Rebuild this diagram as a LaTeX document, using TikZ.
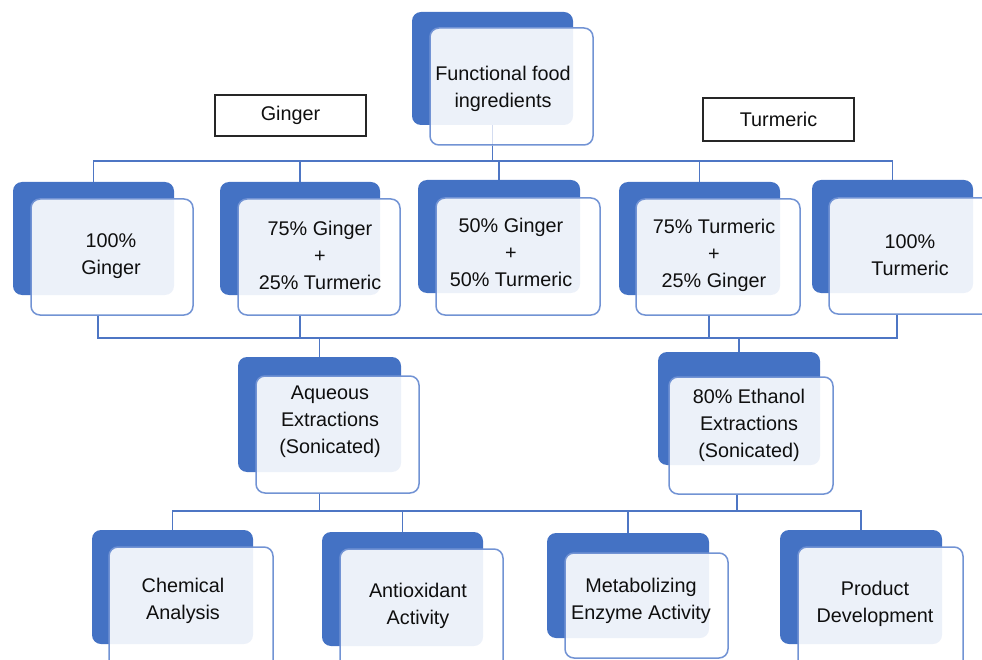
\documentclass[tikz,border=0pt]{standalone}
\usepackage{fontspec}
\setmainfont{Liberation Sans}
\definecolor{darkb}{RGB}{68,114,196}
\definecolor{edgeb}{RGB}{114,147,212}
\definecolor{lineb}{RGB}{78,118,196}
\definecolor{txt}{RGB}{15,15,15}
\begin{document}
\begin{tikzpicture}[x=1pt,y=-1pt,
  backbox/.style={rectangle, rounded corners=9pt, fill=darkb, draw=none, inner sep=0pt},
  frontbox/.style={rectangle, rounded corners=9pt, fill=white, fill opacity=0.9, draw=edgeb, line width=1.5pt, inner sep=0pt},
  lbl/.style={align=center, inner sep=0pt, text=txt, font=\fontsize{19.8}{27}\selectfont},
  labelbox/.style={rectangle, draw=black!85, line width=1.2pt, fill=white, inner sep=0pt, text=txt, font=\fontsize{19.8}{23}\selectfont},
  conn/.style={draw=lineb, line width=1.4pt}]
\useasboundingbox (0,0) rectangle (982,660);
\clip (0,0) rectangle (982,660);

% ---- back boxes ----
\path
 node[backbox, minimum width=161pt, minimum height=113pt] (topB) at (492.5,68.5) {}
 node[backbox, minimum width=161pt, minimum height=113pt] (r1B) at (93.5,238.5) {}
 node[backbox, minimum width=160pt, minimum height=113pt] (r2B) at (300,238.5) {}
 node[backbox, minimum width=162pt, minimum height=113pt] (r3B) at (499,236.5) {}
 node[backbox, minimum width=161pt, minimum height=113pt] (r4B) at (699.5,238.5) {}
 node[backbox, minimum width=161pt, minimum height=113pt] (r5B) at (892.5,236.5) {}
 node[backbox, minimum width=163pt, minimum height=115pt] (aqB) at (319.5,414.5) {}
 node[backbox, minimum width=162pt, minimum height=113pt] (etB) at (739,408.5) {}
 node[backbox, minimum width=161pt, minimum height=114pt] (chB) at (172.5,587) {}
 node[backbox, minimum width=161pt, minimum height=114pt] (anB) at (402.5,589) {}
 node[backbox, minimum width=162pt, minimum height=105pt] (meB) at (628,585.5) {}
 node[backbox, minimum width=162pt, minimum height=114pt] (prB) at (861,587) {};

% ---- front boxes ----
\path
 node[frontbox, minimum width=163pt, minimum height=117pt] (topF) at (511.5,86.5) {}
 node[frontbox, minimum width=162pt, minimum height=116pt] (r1F) at (112,257) {}
 node[frontbox, minimum width=162pt, minimum height=116pt] (r2F) at (319,257) {}
 node[frontbox, minimum width=164pt, minimum height=117pt] (r3F) at (518,256.5) {}
 node[frontbox, minimum width=164pt, minimum height=116pt] (r4F) at (718,257) {}
 node[frontbox, minimum width=166pt, minimum height=116pt] (r5F) at (912,256) {}
 node[frontbox, minimum width=163pt, minimum height=117pt] (aqF) at (337.5,434.5) {}
 node[frontbox, minimum width=164pt, minimum height=117pt] (etF) at (751,435.5) {}
 node[frontbox, minimum width=164pt, minimum height=123pt] (chF) at (191,608.5) {}
 node[frontbox, minimum width=163pt, minimum height=121pt] (anF) at (421.5,609.5) {}
 node[frontbox, minimum width=163pt, minimum height=105pt] (meF) at (646.5,605.5) {}
 node[frontbox, minimum width=165pt, minimum height=123pt] (prF) at (880.5,608.5) {};

% ---- connectors ----
\coordinate (busA) at (0,161);
\coordinate (busB) at (0,338);
\coordinate (busC) at (0,511);
\coordinate (r1drop) at (98,0);
\coordinate (r2drop) at (300,0);
\coordinate (r4drop) at (709,0);
\coordinate (r5drop) at (897,0);
\coordinate (aqdrop) at (319.5,0);
\coordinate (etdrop) at (737,0);

\draw[conn] (topF.south -| topB.south) -- (topB.south |- busA);
\draw[conn, draw opacity=0.25] (topB.south) -- (topF.south -| topB.south);
\draw[conn] (r1B.north) -- (r1B.north |- busA) -| (r5B.north);
\draw[conn] (r2B.north) -- (r2B.north |- busA);
\draw[conn] (r3B.north) -- (r3B.north |- busA);
\draw[conn] (r4B.north) -- (r4B.north |- busA);

\draw[conn] (r1drop |- r1F.south) -- (r1drop |- busB) -- (r5drop |- busB) -- (r5drop |- r5F.south);
\draw[conn] (r2drop |- r2F.south) -- (r2drop |- busB);
\draw[conn] (r4drop |- r4F.south) -- (r4drop |- busB);
\draw[conn] (aqB.north) -- (aqB.north |- busB);
\draw[conn] (etB.north) -- (etB.north |- busB);

\draw[conn] (aqdrop |- aqF.south) -- (aqdrop |- busC);
\draw[conn] (etdrop |- etF.south) -- (etdrop |- busC);
\draw[conn] (chB.north) -- (chB.north |- busC) -| (prB.north);
\draw[conn] (anB.north) -- (anB.north |- busC);
\draw[conn] (meB.north) -- (meB.north |- busC);

% ---- texts ----
\node[lbl] (topT) at (503,89) {Functional food\\ingredients};
\node[lbl] (r1T) at (111,256.5) {100\%\\Ginger};
\node[lbl] (r2T) at (320,255) {75\% Ginger\\+\\25\% Turmeric};
\node[lbl] (r3T) at (511,252) {50\% Ginger\\+\\50\% Turmeric};
\node[lbl] (r4T) at (714,255) {75\% Turmeric\\+\\25\% Ginger};
\node[lbl] (r5T) at (910,255.5) {100\%\\Turmeric};
\node[lbl] (aqT) at (330,422) {Aqueous\\Extractions\\(Sonicated)};
\node[lbl] (etT) at (749,425) {80\% Ethanol\\Extractions\\(Sonicated)};
\node[lbl] (chT) at (183,601) {Chemical\\Analysis};
\node[lbl] (anT) at (418,606) {Antioxidant\\Activity};
\node[lbl] (meT) at (641,601) {Metabolizing\\Enzyme Activity};
\node[lbl] (prT) at (875,604) {Product\\Development};

% ---- side labels ----
\node[labelbox, minimum width=151pt, minimum height=41pt] (ginger) at (290.5,115.5) {Ginger};
\node[labelbox, minimum width=151pt, minimum height=43pt] (turmeric) at (778.5,119.5) {Turmeric};
\end{tikzpicture}
\end{document}
